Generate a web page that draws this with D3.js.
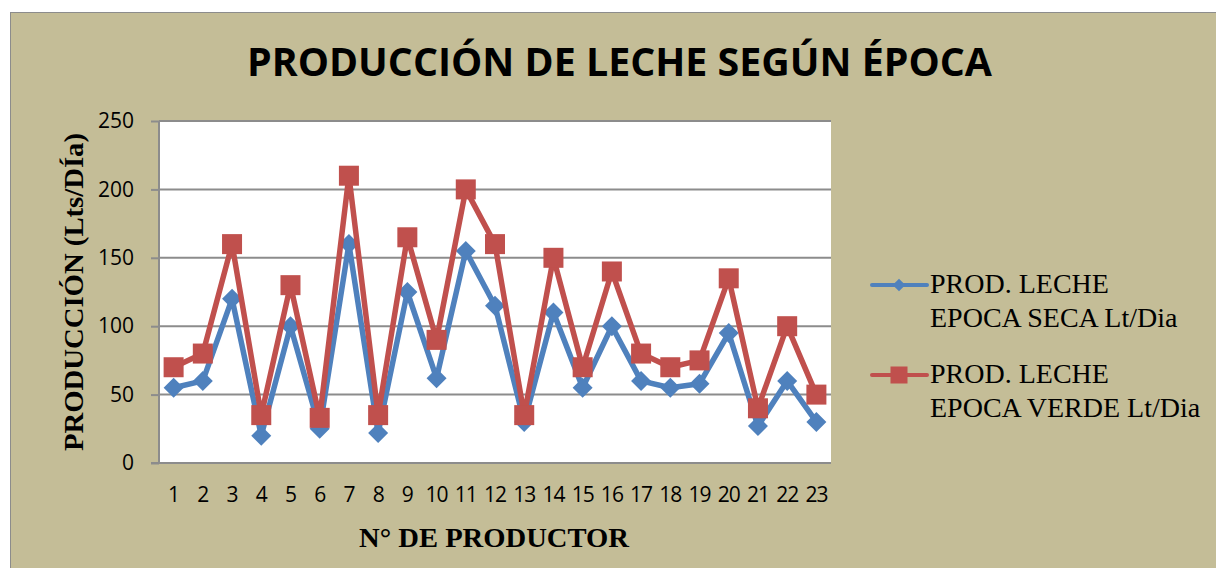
<!DOCTYPE html>
<html>
<head>
<meta charset="utf-8">
<script src="https://cdn.jsdelivr.net/npm/d3@7"></script>
<style>
  html, body { margin: 0; padding: 0; background: #fff; }
</style>
</head>
<body>
<div id="mydiv"></div>
<script>
// producers 1..23
const productores = d3.range(1, 24).map(String);
const seca = [55, 60, 120, 20, 100, 25, 160, 22, 125, 62, 155, 115, 30, 110, 55, 100, 60, 55, 58, 95, 27, 60, 30];
const verde = [70, 80, 160, 35, 130, 33, 210, 35, 165, 90, 200, 160, 35, 150, 70, 140, 80, 70, 75, 135, 40, 100, 50];
const yTicks = [0, 50, 100, 150, 200, 250];
const seriesNames = [
  ["PROD. LECHE", "EPOCA SECA Lt/Dia"],
  ["PROD. LECHE", "EPOCA VERDE Lt/Dia"]
];

const W = 1216, H = 568;
const blue = "#4f81bd", red = "#c0504d", tan = "#c4bd97", grey = "#8c8c8c";

const svg = d3.select("#mydiv")
  .append("svg")
  .attr("width", W)
  .attr("height", H)
  .style("display", "block");

// chart background + frame
svg.append("rect")
  .attr("x", 10.5).attr("y", 12.5)
  .attr("width", W).attr("height", H)
  .attr("fill", tan)
  .attr("stroke", grey).attr("stroke-width", 1);

const plot = { left: 159, right: 831, top: 121, bottom: 463 };

const x = d3.scaleBand().domain(productores).range([plot.left, plot.right]).padding(0);
const y = d3.scaleLinear().domain([0, 250]).range([plot.bottom, plot.top]);
const cx = d => x(d) + x.bandwidth() / 2;

// plot area
svg.append("rect")
  .attr("x", plot.left).attr("y", plot.top)
  .attr("width", plot.right - plot.left).attr("height", plot.bottom - plot.top)
  .attr("fill", "#fff");

// y axis with gridlines
const yAxis = svg.append("g")
  .attr("transform", `translate(${plot.left},0)`)
  .call(d3.axisLeft(y).tickValues(yTicks).tickSize(8).tickPadding(17));
yAxis.select(".domain").remove();
yAxis.selectAll("line").attr("stroke", grey).attr("stroke-width", 2);
yAxis.selectAll("text")
  .attr("fill", "#000")
  .style("font-family", "'Open Sans', sans-serif")
  .style("font-size", "21px");

svg.append("g").selectAll("line.grid")
  .data(yTicks.filter(d => d > 0)).enter()
  .append("line")
  .attr("x1", plot.left).attr("x2", plot.right)
  .attr("y1", d => y(d)).attr("y2", d => y(d))
  .attr("stroke", grey).attr("stroke-width", 2);

// axis lines
svg.append("line")
  .attr("x1", plot.left).attr("x2", plot.left)
  .attr("y1", plot.top).attr("y2", plot.bottom + 1)
  .attr("stroke", grey).attr("stroke-width", 2);

// x axis
const xAxis = svg.append("g")
  .attr("transform", `translate(0,${plot.bottom})`)
  .call(d3.axisBottom(x).tickSize(0).tickPadding(24));
xAxis.select(".domain").remove();
xAxis.selectAll("text")
  .attr("fill", "#000")
  .style("font-family", "'Open Sans', sans-serif")
  .style("font-size", "21px")
  .style("letter-spacing", "-1px");

svg.append("line")
  .attr("x1", 151).attr("x2", plot.right)
  .attr("y1", plot.bottom).attr("y2", plot.bottom)
  .attr("stroke", grey).attr("stroke-width", 2);

// series
const line = d3.line().x((d, i) => cx(productores[i])).y(d => y(d));
const diamond = d3.symbol().type(d3.symbolSquare).size(200);

function drawSeries(vals, color, kind) {
  svg.append("path")
    .datum(vals)
    .attr("d", line)
    .attr("fill", "none")
    .attr("stroke", color)
    .attr("stroke-width", 5.5)
    .attr("stroke-linejoin", "round");
  const g = svg.append("g");
  if (kind == "diamond") {
    g.selectAll("path").data(vals).enter()
      .append("path")
      .attr("d", diamond)
      .attr("transform", (d, i) => `translate(${cx(productores[i])},${y(d)}) rotate(45)`)
      .attr("fill", color);
  } else {
    g.selectAll("rect").data(vals).enter()
      .append("rect")
      .attr("x", (d, i) => cx(productores[i]) - 10)
      .attr("y", d => y(d) - 10)
      .attr("width", 20).attr("height", 20)
      .attr("fill", color);
  }
}
drawSeries(seca, blue, "diamond");
drawSeries(verde, red, "square");

// title
svg.append("text")
  .attr("x", 619.5).attr("y", 76)
  .attr("text-anchor", "middle")
  .attr("textLength", 745)
  .attr("lengthAdjust", "spacingAndGlyphs")
  .style("font-family", "'Open Sans', sans-serif")
  .style("font-weight", "bold")
  .style("font-size", "40px")
  .text("PRODUCCIÓN DE LECHE SEGÚN ÉPOCA");

// axis titles
svg.append("text")
  .attr("transform", "translate(83,292) rotate(-90)")
  .attr("text-anchor", "middle")
  .attr("textLength", 318)
  .attr("lengthAdjust", "spacingAndGlyphs")
  .style("font-family", "'Liberation Serif', 'Times New Roman', serif")
  .style("font-weight", "bold")
  .style("font-size", "28px")
  .text("PRODUCCIÓN (Lts/DÍa)");

svg.append("text")
  .attr("x", 494).attr("y", 547)
  .attr("text-anchor", "middle")
  .attr("textLength", 270)
  .attr("lengthAdjust", "spacingAndGlyphs")
  .style("font-family", "'Liberation Serif', 'Times New Roman', serif")
  .style("font-weight", "bold")
  .style("font-size", "28px")
  .text("N° DE PRODUCTOR");

// legend
const legY = [285, 375];
const legend = svg.append("g");
[blue, red].forEach((c, i) => {
  const gy = legY[i];
  legend.append("line")
    .attr("x1", 872).attr("x2", 927)
    .attr("y1", gy).attr("y2", gy)
    .attr("stroke", c).attr("stroke-width", 4)
    .attr("stroke-linecap", "round");
  if (i == 0) {
    legend.append("path")
      .attr("d", d3.symbol().type(d3.symbolSquare).size(80))
      .attr("transform", `translate(899,${gy}) rotate(45)`)
      .attr("fill", c);
  } else {
    legend.append("rect")
      .attr("x", 899 - 8.5).attr("y", gy - 8.5)
      .attr("width", 17).attr("height", 17)
      .attr("fill", c);
  }
  const t = legend.append("text")
    .attr("x", 930).attr("y", gy + 8)
    .style("font-family", "'Liberation Serif', 'Times New Roman', serif")
    .style("font-size", "28px")
    .attr("fill", "#000");
  seriesNames[i].forEach((s, k) => {
    t.append("tspan").attr("x", 930).attr("dy", k == 0 ? 0 : 34).text(s);
  });
});
</script>
</body>
</html>
